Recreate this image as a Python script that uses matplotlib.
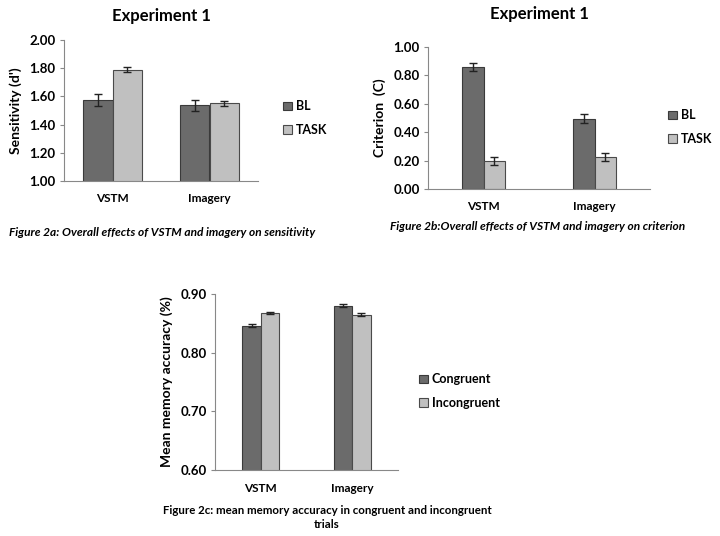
import matplotlib.pyplot as plt

plt.rcParams['font.family'] = ['Lato', 'DejaVu Sans']
plt.rcParams['font.weight'] = 'bold'

groups = ["VSTM", "Imagery"]

# Figure 2a: sensitivity
sens_bl = [1.575, 1.536]
sens_bl_err = [0.040, 0.040]
sens_task = [1.790, 1.550]
sens_task_err = [0.015, 0.020]

# Figure 2b: criterion
crit_bl = [0.858, 0.495]
crit_bl_err = [0.030, 0.030]
crit_task = [0.196, 0.224]
crit_task_err = [0.030, 0.030]

# Figure 2c: memory accuracy
acc_con = [0.846, 0.880]
acc_con_err = [0.003, 0.003]
acc_inc = [0.868, 0.865]
acc_inc_err = [0.002, 0.002]

DARK = '#6b6b6b'
LIGHT = '#c0c0c0'
W, H = 720, 536


def px_axes(fig, left, top, right, bottom):
    return fig.add_axes([left / W, 1 - bottom / H, (right - left) / W, (bottom - top) / H])


def draw_panel(ax, a, a_err, b, b_err, width, labels, ylim, yticks, ylabel):
    x = range(len(groups))
    xa = [i - width / 2 for i in x]
    xb = [i + width / 2 for i in x]
    ekw = dict(ecolor='#222222', elinewidth=1, capsize=3, capthick=1)
    ax.bar(xa, a, width, yerr=a_err, color=DARK, edgecolor='#3a3a3a', linewidth=0.8,
           label=labels[0], error_kw=ekw)
    ax.bar(xb, b, width, yerr=b_err, color=LIGHT, edgecolor='#4a4a4a', linewidth=0.8,
           label=labels[1], error_kw=ekw)
    ax.set_xlim(-0.5, 1.5)
    ax.set_ylim(*ylim)
    ax.set_yticks(yticks)
    ax.set_yticklabels([f"{t:.2f}" for t in yticks], fontsize=9.5, fontweight='bold')
    ax.set_xticks(list(x))
    ax.set_xticklabels(groups, fontsize=8.5, fontweight='bold')
    ax.tick_params(axis='x', length=0, pad=9)
    ax.tick_params(axis='y', length=3, width=0.8, color='#888888', pad=3)
    for s in ['top', 'right']:
        ax.spines[s].set_visible(False)
    for s in ['left', 'bottom']:
        ax.spines[s].set_color('#888888')
        ax.spines[s].set_linewidth(0.8)
    ax.set_ylabel(ylabel, fontsize=10, fontweight='bold', labelpad=5)


def add_legend(ax, fig, x, y):
    ax.legend(loc='center left', bbox_to_anchor=(x / W, 1 - y / H), bbox_transform=fig.transFigure,
              frameon=False, handlelength=0.7, handleheight=0.7, handletextpad=0.3,
              labelspacing=0.9, prop={'weight': 'bold', 'size': 9})


fig = plt.figure(figsize=(W / 100, H / 100), dpi=100)

# panel a
ax1 = px_axes(fig, 64, 40, 258, 181)
draw_panel(ax1, sens_bl, sens_bl_err, sens_task, sens_task_err, 0.3, ["BL", "TASK"],
           (1.0, 2.0), [1.0, 1.2, 1.4, 1.6, 1.8, 2.0], "Sensitivity (d')")
ax1.set_title("Experiment 1", fontsize=12, fontweight='bold', pad=14)
add_legend(ax1, fig, 272, 118)
fig.text(9 / W, 1 - 233 / H, "Figure 2a: Overall effects of VSTM and imagery on sensitivity",
         fontsize=8.6, fontweight='bold', style='italic', va='center', ha='left')

# panel b
ax2 = px_axes(fig, 428, 47, 650, 189)
draw_panel(ax2, crit_bl, crit_bl_err, crit_task, crit_task_err, 0.19, ["BL", "TASK"],
           (0.0, 1.0), [0.0, 0.2, 0.4, 0.6, 0.8, 1.0], "Criterion  (C)")
ax2.set_title("Experiment 1", fontsize=12, fontweight='bold', pad=20)
add_legend(ax2, fig, 657, 127)
fig.text(538 / W, 1 - 227 / H, "Figure 2b:Overall effects of VSTM and imagery on criterion",
         fontsize=8.6, fontweight='bold', style='italic', va='center', ha='center')

# panel c
ax3 = px_axes(fig, 215, 294, 398, 470)
draw_panel(ax3, acc_con, acc_con_err, acc_inc, acc_inc_err, 0.2, ["Congruent", "Incongruent"],
           (0.6, 0.9), [0.6, 0.7, 0.8, 0.9], "Mean memory accuracy (%)")
add_legend(ax3, fig, 408, 391)
fig.text(327 / W, 1 - 510 / H, "Figure 2c: mean memory accuracy in congruent and incongruent",
         fontsize=8.3, fontweight='bold', va='center', ha='center')
fig.text(327 / W, 1 - 525 / H, "trials", fontsize=8.3, fontweight='bold', va='center', ha='center')

fig.savefig("out.png", dpi=100)
